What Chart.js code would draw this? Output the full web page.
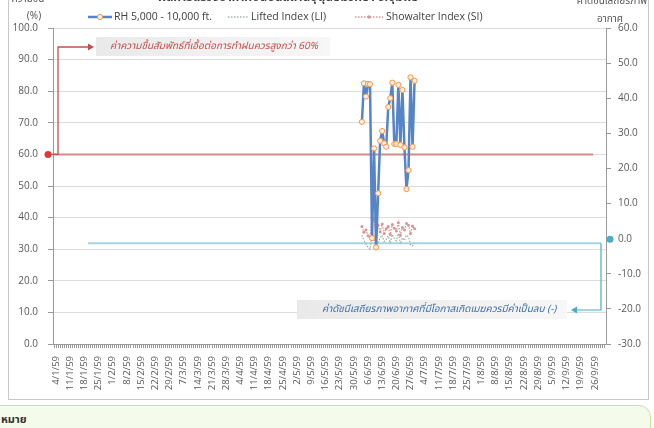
<!DOCTYPE html>
<html>
<head>
<meta charset="utf-8">
<script src="https://cdn.jsdelivr.net/npm/chart.js@4.4.0/dist/chart.umd.min.js"></script>
<style>
  html, body { margin: 0; padding: 0; background: #fff; overflow: hidden; }
  #wrap { position: relative; width: 654px; height: 428px; overflow: hidden; }
  #frame { position: absolute; left: 8px; top: -10px; width: 639px; height: 408px; border: 1px solid #c8c8c8; background: #fff; }
  #note { position: absolute; left: -12px; top: 405px; width: 661px; height: 40px; background: #f4fbea; border: 1px solid #c9e2a6; border-radius: 12px; }
  #noteText { position: absolute; left: 1px; top: 411px; font: bold 11px 'Noto Sans Thai', Tahoma, 'DejaVu Sans', sans-serif; color: #333; }
  canvas { position: absolute; left: 0; top: 0; }
</style>
</head>
<body>
<div id="wrap">
  <div id="frame"></div>
  <div id="note"></div>
  <div id="noteText">หมาย</div>
  <canvas id="rhChart" width="654" height="428"></canvas>
</div>
<script>
// axis: daily categories 3/1/59 .. 1/10/59, a label every 7 days from 4/1/59
const START_DATE = new Date(2016, 0, 3);
const DAY_COUNT = 273;
const FIRST_LABEL_INDEX = 1;

// upper-air soundings, 3/6/59 .. 29/6/59
const obsStart = '3/6/59';
const rhValues = [70.3, 82.5, 78.3, 82.3, 82.2, 33.5, 61.9, 30.6, 47.7, 64.3, 67.4, 63.5, 62.4, 75.0,
                  77.8, 82.7, 63.3, 63.3, 82.0, 63.0, 80.4, 62.2, 49.0, 55.0, 84.4, 62.4, 83.3];
const liValues = [1.0, -0.5, -1.5, -2.5, -3.0, 1.5, 0.5, -2.8, -1.0, 0.2, 1.0, -0.8, -0.2, 0.8,
                  -1.2, 1.2, 0.0, -0.6, 1.5, -1.5, 0.3, -0.5, 1.0, 0.6, -1.8, -2.0, -1.2];
const siValues = [3.5, 1.8, 2.5, 0.8, 0.5, 6.0, 5.5, 1.0, 3.8, 2.0, 4.2, 1.5, 2.8, 3.5,
                  1.2, 4.0, 3.0, 2.2, 4.5, 1.0, 3.2, 2.5, 4.3, 3.8, 1.5, 3.6, 2.8];

const RH_LIMIT = 60;       // left axis, %
const STABLE_LIMIT = -1.3; // right axis, index

const FONT = "'Open Sans', 'Noto Sans', sans-serif";
const THAI = "'Noto Sans Thai', 'Leelawadee UI', Tahoma, 'DejaVu Sans', sans-serif";

// build date labels
const labels = [];
for (let i = 0; i < DAY_COUNT; i++) {
  const d = new Date(START_DATE.getTime() + i * 86400000);
  labels.push(d.getDate() + '/' + (d.getMonth() + 1) + '/' + String(d.getFullYear() + 543).slice(2));
}

function spread(values) {
  const out = new Array(labels.length).fill(null);
  const s = labels.indexOf(obsStart);
  values.forEach((v, i) => { out[s + i] = v; });
  return out;
}

function seg(ctx, pts) {
  ctx.beginPath();
  ctx.moveTo(pts[0][0], pts[0][1]);
  for (let i = 1; i < pts.length; i++) ctx.lineTo(pts[i][0], pts[i][1]);
  ctx.stroke();
}

function dot(ctx, x, y, r, fill, stroke) {
  ctx.beginPath();
  ctx.arc(x, y, r, 0, Math.PI * 2);
  ctx.fillStyle = fill;
  ctx.fill();
  if (stroke) { ctx.strokeStyle = stroke; ctx.lineWidth = 1; ctx.stroke(); }
}

function arrowHead(ctx, x, y, dir, color) {
  ctx.beginPath();
  ctx.moveTo(x, y);
  ctx.lineTo(x - dir * 6, y - 3.5);
  ctx.lineTo(x - dir * 6, y + 3.5);
  ctx.closePath();
  ctx.fillStyle = color;
  ctx.fill();
}

function noteBox(ctx, x, y, w, h) {
  const g = ctx.createLinearGradient(x, 0, x + w, 0);
  g.addColorStop(0, '#e9e9e9');
  g.addColorStop(1, '#f7f7f7');
  ctx.fillStyle = g;
  ctx.fillRect(x, y, w, h);
}

const decor = {
  id: 'decor',
  beforeDatasetsDraw(chart) {
    const { ctx, chartArea: a, scales } = chart;
    const yRed = scales.y.getPixelForValue(RH_LIMIT);
    const yBlue = scales.y1.getPixelForValue(STABLE_LIMIT);
    ctx.save();
    ctx.lineWidth = 2;
    ctx.strokeStyle = '#d48a88';
    seg(ctx, [[a.left, yRed], [a.right - 13, yRed]]);
    ctx.strokeStyle = '#a3d5e3';
    seg(ctx, [[a.left + 35, yBlue], [a.right - 5, yBlue]]);
    ctx.restore();
  },
  afterDraw(chart) {
    const { ctx, chartArea: a, scales } = chart;
    const yRed = scales.y.getPixelForValue(RH_LIMIT);
    const yBlue = scales.y1.getPixelForValue(STABLE_LIMIT);
    ctx.save();

    // red note: RH should be above 60%
    ctx.strokeStyle = '#c0504d';
    ctx.lineWidth = 1.3;
    seg(ctx, [[a.left - 5, yRed], [a.left + 5, yRed], [a.left + 5, 47], [90, 47]]);
    arrowHead(ctx, 94, 47, 1, '#c0504d');
    dot(ctx, a.left - 5, yRed, 3.5, '#e0393b');
    noteBox(ctx, 96, 37, 234, 19);
    ctx.font = 'italic 10px ' + THAI;
    ctx.fillStyle = '#c0504d';
    ctx.textBaseline = 'middle';
    ctx.textAlign = 'left';
    ctx.fillText('ค่าความชื้นสัมพัทธ์ที่เอื้อต่อการทำฝนควรสูงกว่า 60%', 110, 47);

    // blue note: stability index should be negative
    ctx.strokeStyle = '#4bacc6';
    ctx.lineWidth = 1.2;
    seg(ctx, [[a.right - 5, yBlue], [a.right - 5, 310], [577, 310]]);
    arrowHead(ctx, 571, 310, -1, '#4bacc6');
    dot(ctx, a.right + 4, yBlue - 4, 3.5, '#4bacc6');
    noteBox(ctx, 297, 300, 270, 19);
    ctx.font = 'italic 10px ' + THAI;
    ctx.fillStyle = '#3e6fa6';
    ctx.fillText('ค่าดัชนีเสถียรภาพอากาศที่มีโอกาสเกิดเมฆควรมีค่าเป็นลบ (-)', 322, 310);

    // titles
    ctx.fillStyle = '#404040';
    ctx.textAlign = 'center';
    ctx.font = 'bold 12px ' + THAI;
    ctx.fillText('ผลการตรวจอากาศชั้นบนสถานีอุตุนิยมวิทยา จ.ชุมพร', 288, -1);
    ctx.font = '10px ' + THAI;
    ctx.fillStyle = '#595959';
    ctx.fillText('ความชื้น', 28, 0);
    ctx.fillText('(%)', 34, 17);
    ctx.fillText('ค่าดัชนีเสถียรภาพ', 612, 2);
    ctx.fillText('อากาศ', 610, 20);

    // legend
    const ly = 17;
    ctx.textAlign = 'left';
    ctx.font = '10.5px ' + FONT;
    ctx.strokeStyle = '#5585c8';
    ctx.lineWidth = 2.5;
    seg(ctx, [[88, ly], [112, ly]]);
    dot(ctx, 100, ly, 2.6, '#fdeee2', '#f79646');
    ctx.fillStyle = '#404040';
    ctx.fillText('RH 5,000 - 10,000 ft.', 114, ly);
    ctx.setLineDash([1.5, 1.5]);
    ctx.lineWidth = 1.3;
    ctx.strokeStyle = '#a9b3ad';
    seg(ctx, [[228, ly], [248, ly]]);
    ctx.fillText('Lifted Index (LI)', 251, ly);
    ctx.strokeStyle = '#d99694';
    seg(ctx, [[355, ly], [383, ly]]);
    ctx.setLineDash([]);
    dot(ctx, 369, ly, 1.8, '#d99694');
    ctx.fillStyle = '#404040';
    ctx.fillText('Showalter Index (SI)', 386, ly);
    ctx.restore();
  }
};

new Chart(document.getElementById('rhChart'), {
  type: 'line',
  data: {
    labels: labels,
    datasets: [
      {
        label: 'RH 5,000 - 10,000 ft.',
        data: spread(rhValues),
        yAxisID: 'y',
        borderColor: '#5585c8',
        borderWidth: 2.5,
        borderJoinStyle: 'round',
        pointRadius: 2.6,
        pointBackgroundColor: '#fdeee2',
        pointBorderColor: '#f79646',
        pointBorderWidth: 1,
        tension: 0,
        order: 0
      },
      {
        label: 'Lifted Index (LI)',
        data: spread(liValues),
        yAxisID: 'y1',
        borderColor: '#a3b2a8',
        borderWidth: 1.3,
        borderDash: [1.5, 1.5],
        pointRadius: 0,
        tension: 0,
        order: 2
      },
      {
        label: 'Showalter Index (SI)',
        data: spread(siValues),
        yAxisID: 'y1',
        borderColor: '#d99694',
        borderWidth: 1.3,
        borderDash: [1.5, 1.5],
        pointRadius: 1.5,
        pointBackgroundColor: '#d99694',
        pointBorderWidth: 0,
        tension: 0,
        order: 1
      }
    ]
  },
  options: {
    responsive: false,
    animation: false,
    layout: { padding: { top: 28, left: 0, right: 0, bottom: 0 } },
    plugins: { legend: { display: false }, title: { display: false }, tooltip: { enabled: false } },
    scales: {
      x: {
        offset: true,
        afterFit(s) { s.height = 84; },
        grid: { display: true, drawOnChartArea: false, tickLength: 4, color: '#9a9a9a' },
        border: { color: '#9a9a9a' },
        ticks: {
          autoSkip: false,
          minRotation: 90,
          maxRotation: 90,
          padding: 8,
          color: '#595959',
          font: { family: FONT, size: 9.5 },
          callback(v, i) { return (i - FIRST_LABEL_INDEX) % 7 === 0 ? labels[i] : ''; }
        }
      },
      y: {
        position: 'left',
        min: 0,
        max: 100,
        afterFit(s) { s.width = 53; },
        grid: { color: '#dcdcdc', tickColor: '#9a9a9a', tickLength: 5 },
        border: { color: '#9a9a9a' },
        ticks: {
          stepSize: 10,
          padding: 10,
          color: '#595959',
          font: { family: FONT, size: 10 },
          callback: v => v.toFixed(1)
        }
      },
      y1: {
        position: 'right',
        min: -30,
        max: 60,
        afterFit(s) { s.width = 48; },
        grid: { drawOnChartArea: false, color: '#9a9a9a', tickLength: 5 },
        border: { color: '#9a9a9a' },
        ticks: {
          stepSize: 10,
          padding: 7,
          color: '#595959',
          font: { family: FONT, size: 10 },
          callback: v => v.toFixed(1)
        }
      }
    }
  },
  plugins: [decor]
});
</script>
</body>
</html>
